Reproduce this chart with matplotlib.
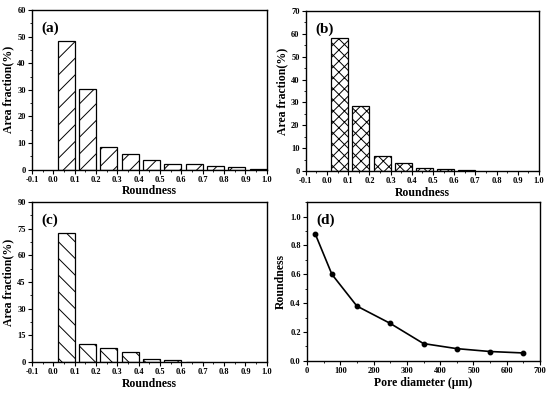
import matplotlib
matplotlib.use("Agg")
import matplotlib.pyplot as plt
from matplotlib.ticker import MultipleLocator, FormatStrFormatter

plt.rcParams['font.family'] = ['Liberation Serif', 'DejaVu Serif']
plt.rcParams['font.weight'] = 'bold'
plt.rcParams['hatch.linewidth'] = 0.7

bins = [0.0, 0.1, 0.2, 0.3, 0.4, 0.5, 0.6, 0.7, 0.8, 0.9]
frac_a = [48.3, 30.2, 8.4, 6.1, 3.5, 2.2, 2.0, 1.3, 0.9, 0.4]
frac_b = [58.0, 28.5, 6.7, 3.7, 1.3, 0.8, 0.3]
frac_c = [72.5, 10.2, 7.8, 5.6, 1.6, 0.9, 0.3]
pore_d = [25, 75, 150, 250, 350, 450, 550, 650]
round_d = [0.88, 0.60, 0.38, 0.26, 0.12, 0.085, 0.065, 0.055]

fig = plt.figure(figsize=(5.5, 3.94), dpi=100)

def style(ax):
    for s in ax.spines.values():
        s.set_linewidth(1.0)
    ax.tick_params(which='major', direction='out', length=3, width=0.8, labelsize=6, pad=1.5)
    ax.tick_params(which='minor', direction='out', length=1.5, width=0.6)
    for lab in ax.get_xticklabels() + ax.get_yticklabels():
        lab.set_fontweight('bold')

def bar_panel(rect, vals, hatch, ymax, ystep, label):
    ax = fig.add_axes(rect)
    x = [b + 0.06 for b in bins[:len(vals)]]
    ax.bar(x, vals, width=0.08, facecolor='white', edgecolor='black',
           linewidth=0.9, hatch=hatch)
    ax.set_xlim(-0.1, 1.0)
    ax.set_ylim(0, ymax)
    ax.xaxis.set_major_locator(MultipleLocator(0.1))
    ax.xaxis.set_minor_locator(MultipleLocator(0.05))
    ax.xaxis.set_major_formatter(FormatStrFormatter('%.1f'))
    ax.yaxis.set_major_locator(MultipleLocator(ystep))
    ax.yaxis.set_minor_locator(MultipleLocator(ystep / 2))
    ax.set_xlabel('Roundness', fontsize=8.5, fontweight='bold', labelpad=1)
    ax.set_ylabel('Area fraction(%)', fontsize=8.5, fontweight='bold', labelpad=2)
    ax.text(0.04, 0.93, label, transform=ax.transAxes, fontsize=11,
            fontweight='bold', va='top', ha='left')
    style(ax)
    return ax

bar_panel([0.058, 0.569, 0.427, 0.406], frac_a, '//', 60, 10, '(a)')
bar_panel([0.556, 0.566, 0.424, 0.406], frac_b, 'xxx', 70, 10, '(b)')
bar_panel([0.058, 0.081, 0.427, 0.406], frac_c, '\\\\', 90, 15, '(c)')

ax = fig.add_axes([0.558, 0.084, 0.424, 0.403])
ax.plot(pore_d, round_d, color='black', linewidth=1.2, marker='o', markersize=3.2)
ax.set_xlim(0, 700)
ax.set_ylim(0, 1.1)
ax.xaxis.set_major_locator(MultipleLocator(100))
ax.xaxis.set_minor_locator(MultipleLocator(50))
ax.yaxis.set_major_locator(MultipleLocator(0.2))
ax.yaxis.set_minor_locator(MultipleLocator(0.1))
ax.yaxis.set_major_formatter(FormatStrFormatter('%.1f'))
ax.set_xlabel('Pore diameter (\u03bcm)', fontsize=8.5, fontweight='bold', labelpad=1)
ax.set_ylabel('Roundness', fontsize=8.5, fontweight='bold', labelpad=2)
ax.text(0.04, 0.93, '(d)', transform=ax.transAxes, fontsize=11,
        fontweight='bold', va='top', ha='left')
style(ax)

fig.savefig('out.png', dpi=100)
